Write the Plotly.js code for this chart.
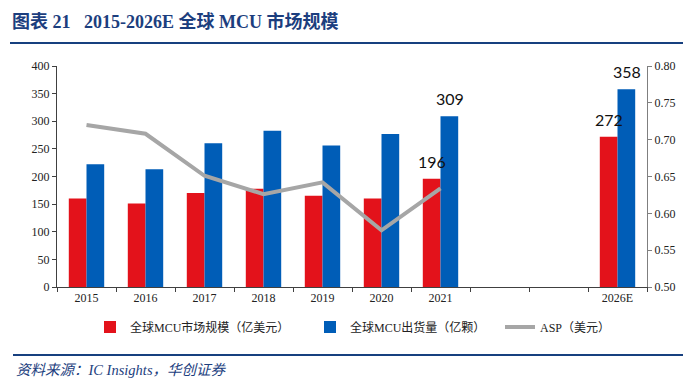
<!DOCTYPE html>
<html>
<head>
<meta charset="utf-8">
<script src="https://cdn.plot.ly/plotly-3.0.1.min.js"></script>
<style>html,body{margin:0;padding:0;background:#fff;}#chart{width:700px;height:379px;}</style>
</head>
<body>
<div id="chart"></div>
<script>
// Categories (two blank slots between 2021 and 2026E)
const years = ['2015','2016','2017','2018','2019','2020','2021',' ','  ','2026E'];
// 全球MCU市场规模（亿美元）
const marketSize = [160, 151, 170, 178, 165, 160, 196, null, null, 272];
// 全球MCU出货量（亿颗）
const shipments = [222, 213, 260, 283, 256, 277, 309, null, null, 358];
// ASP（美元）
const asp = [0.720, 0.708, 0.651, 0.626, 0.642, 0.577, 0.634, null, null, null];
// which points carry a value label
const labelYears = ['2021', '2026E'];

const serif = '"Liberation Serif", "Times New Roman", "Noto Sans CJK SC", serif';
const navy = '#1C3E7E';
const labelFont = {family: 'Lato, "Open Sans", sans-serif', size: 16, color: '#111'};

const traces = [
  {
    type: 'bar', name: '全球MCU市场规模（亿美元）', x: years, y: marketSize,
    marker: {color: '#E3121B'}, legend: 'legend'
  },
  {
    type: 'bar', name: '全球MCU出货量（亿颗）', x: years, y: shipments,
    marker: {color: '#005DB7'}, legend: 'legend2'
  },
  {
    type: 'scatter', mode: 'lines', name: 'ASP（美元）', x: years, y: asp, yaxis: 'y2',
    line: {color: '#A6A6A6', width: 4}, connectgaps: false, legend: 'legend3'
  }
];

const plotL = 57, plotW = 590, plotT = 66, plotH = 221;
const px = x => (x - plotL) / plotW;
const py = y => 1 - (y - plotT) / plotH;
const legendCommon = {
  orientation: 'h', xanchor: 'left', yanchor: 'middle', y: py(327),
  font: {family: serif, size: 12, color: '#222'}, itemwidth: 30, bgcolor: 'rgba(0,0,0,0)'
};

// value labels above the bars; x given as the category index on the category axis
const valueLabels = [];
years.forEach((yr, i) => {
  if (!labelYears.includes(yr)) return;
  [[marketSize, -1], [shipments, 1]].forEach(([arr, side]) => {
    if (arr[i] == null) return;
    valueLabels.push({
      x: i, y: arr[i], xref: 'x', yref: 'y', text: String(arr[i]),
      xanchor: 'center', yanchor: 'bottom', xshift: side * 9, yshift: 6,
      showarrow: false, font: labelFont
    });
  });
});

const layout = {
  width: 700, height: 379,
  margin: {l: 57, r: 53, t: 66, b: 92},
  paper_bgcolor: '#fff', plot_bgcolor: '#fff',
  font: {family: serif, size: 12, color: '#222'},
  barmode: 'group', bargap: 0.4, bargroupgap: 0,
  showlegend: true,
  title: {
    text: '<b>图表 21   2015-2026E 全球 MCU 市场规模</b>',
    font: {family: serif, size: 18, color: navy},
    x: 12/700, xanchor: 'left', xref: 'container',
    y: 1 - 22/379, yanchor: 'middle', yref: 'container'
  },
  xaxis: {
    type: 'category', categoryorder: 'array', categoryarray: years,
    range: [-0.5, 9.5], tickson: 'boundaries', ticks: 'outside', ticklen: 4,
    tickcolor: '#404040', showline: true, linecolor: '#404040', linewidth: 1,
    showgrid: false, zeroline: false,
    tickfont: {family: serif, size: 12, color: '#222'}
  },
  yaxis: {
    range: [0, 400], dtick: 50, ticks: 'outside', ticklen: 4, tickcolor: '#404040',
    showline: true, linecolor: '#404040', linewidth: 1, showgrid: false, zeroline: false,
    tickfont: {family: serif, size: 12, color: '#222'}
  },
  yaxis2: {
    overlaying: 'y', side: 'right', range: [0.5, 0.8], dtick: 0.05, tickformat: '.2f',
    ticks: 'outside', ticklen: 4, tickcolor: '#7F7F7F', showline: true, linecolor: '#7F7F7F',
    linewidth: 1, showgrid: false, zeroline: false,
    tickfont: {family: serif, size: 12, color: '#222'}
  },
  legend: Object.assign({}, legendCommon, {x: px(90)}),
  legend2: Object.assign({}, legendCommon, {x: px(310)}),
  legend3: Object.assign({}, legendCommon, {x: px(500)}),
  shapes: [
    {type: 'line', xref: 'paper', yref: 'paper', x0: px(10), x1: px(683),
     y0: py(43), y1: py(43), line: {color: '#17407F', width: 2}},
    {type: 'line', xref: 'paper', yref: 'paper', x0: px(13), x1: px(683),
     y0: py(355), y1: py(355), line: {color: '#17407F', width: 2}}
  ],
  annotations: valueLabels.concat([
    {text: '<i>资料来源：IC Insights，华创证券</i>', xref: 'paper', yref: 'paper',
     x: px(14), xanchor: 'left', y: py(370), yanchor: 'middle', showarrow: false,
     font: {family: serif, size: 14.5, color: navy}}
  ])
};

Plotly.newPlot('chart', traces, layout, {staticPlot: true, displayModeBar: false});
</script>
</body>
</html>
